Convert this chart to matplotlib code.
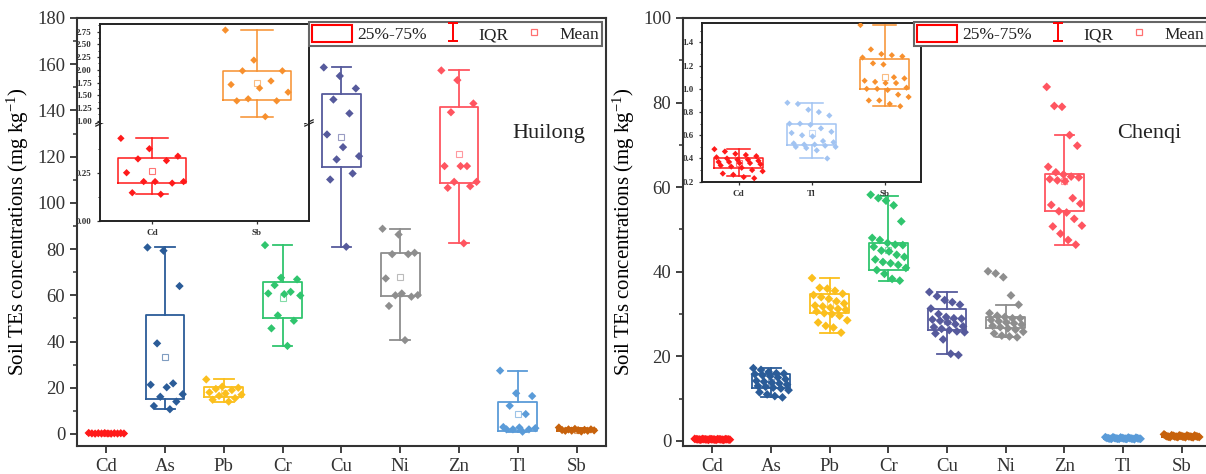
import matplotlib.pyplot as plt
import numpy as np
from matplotlib.patches import Patch
from matplotlib.lines import Line2D
from matplotlib.path import Path
from matplotlib.ticker import MultipleLocator, AutoMinorLocator, FormatStrFormatter, FixedLocator

plt.rcParams['font.family'] = 'serif'
plt.rcParams['font.serif'] = ['Liberation Serif', 'DejaVu Serif']
plt.rcParams['mathtext.fontset'] = 'custom'
plt.rcParams['mathtext.rm'] = 'Liberation Serif'
plt.rcParams['mathtext.it'] = 'Liberation Serif:italic'
plt.rcParams['text.color'] = '#222222'
plt.rcParams['axes.edgecolor'] = '#333333'
plt.rcParams['xtick.color'] = '#333333'
plt.rcParams['ytick.color'] = '#333333'

ELEMENTS = ['Cd', 'As', 'Pb', 'Cr', 'Cu', 'Ni', 'Zn', 'Tl', 'Sb']

# ---- Huilong samples (mg/kg) ----
hl_cd = [0.43, 0.376, 0.337, 0.323, 0.314, 0.251, 0.205, 0.205, 0.205, 0.197, 0.147, 0.139]
hl_as = [80.7, 79.3, 64.0, 39.2, 21.9, 21.3, 20.2, 17.2, 16.1, 14.0, 12.1, 10.7]
hl_pb = [23.6, 20.5, 20.0, 19.5, 19.0, 18.0, 17.5, 17.0, 16.5, 15.5, 14.8, 14.0]
hl_cr = [81.7, 67.6, 66.9, 64.4, 61.5, 60.8, 60.5, 59.9, 51.3, 49.0, 45.7, 38.1]
hl_cu = [158.6, 154.9, 149.5, 144.7, 138.7, 129.6, 124.1, 120.2, 118.8, 112.7, 110.1, 81.0]
hl_ni = [88.8, 86.3, 78.4, 77.8, 77.8, 67.3, 60.8, 60.1, 60.0, 59.4, 55.4, 40.6]
hl_zn = [157.3, 153.1, 143.0, 139.2, 115.9, 115.9, 115.9, 109.1, 109.1, 107.2, 106.5, 82.5]
hl_tl = [27.4, 17.6, 16.4, 12.2, 8.6, 3.0, 2.8, 2.5, 2.0, 2.0, 2.0, 1.0]
hl_sb = [2.78, 2.19, 1.98, 1.98, 1.78, 1.71, 1.64, 1.56, 1.43, 1.39, 1.39, 1.08]

# box stats (25%, 75%, whisker low/high, mean)
hl_q1 = [0.20, 15.0, 16.1, 50.0, 115.6, 59.8, 108.4, 1.3, 1.41]
hl_q3 = [0.326, 51.5, 20.2, 65.6, 147.0, 78.4, 141.3, 14.0, 1.98]
hl_lo = [0.139, 10.8, 14.0, 38.1, 81.0, 40.6, 82.5, 1.0, 1.08]
hl_hi = [0.43, 80.7, 23.6, 81.7, 158.6, 88.8, 157.3, 27.4, 2.78]
hl_mean = [0.26, 33.2, 17.8, 59.0, 128.6, 67.9, 121.3, 8.5, 1.75]

# ---- Chenqi samples (mg/kg) ----
cq_cd = [0.48, 0.46, 0.44, 0.43, 0.42, 0.41, 0.40, 0.39, 0.39, 0.38, 0.37, 0.37,
         0.36, 0.36, 0.35, 0.34, 0.33, 0.32, 0.30, 0.29, 0.27, 0.26, 0.24, 0.23]
cq_as = [17.2, 16.8, 16.3, 16.0, 15.9, 15.8, 15.5, 15.3, 15.0, 14.6, 14.2, 14.0,
         13.8, 13.6, 13.3, 13.0, 12.8, 12.6, 12.4, 12.0, 11.5, 11.0, 10.6, 10.3]
cq_pb = [38.5, 36.2, 36.0, 35.5, 34.8, 34.5, 34.0, 33.6, 33.0, 32.5, 32.0, 31.8,
         31.5, 31.2, 31.0, 30.6, 30.2, 30.0, 29.6, 28.5, 28.0, 27.2, 26.8, 25.6]
cq_cr = [58.2, 57.4, 56.8, 55.7, 51.9, 48.0, 47.5, 46.8, 46.4, 46.3, 45.9, 45.0,
         44.8, 44.0, 43.5, 42.9, 42.3, 42.0, 41.6, 40.9, 40.4, 39.5, 38.3, 37.9]
cq_cu = [35.2, 34.2, 33.3, 32.8, 32.2, 31.3, 30.0, 29.3, 29.0, 28.9, 28.7, 28.4,
         28.0, 27.6, 27.1, 26.9, 26.5, 26.2, 25.9, 25.7, 25.4, 24.0, 20.6, 20.3]
cq_ni = [40.1, 39.6, 38.7, 34.4, 32.2, 30.2, 29.6, 29.3, 29.0, 29.0, 28.6, 28.3,
         28.0, 27.8, 27.5, 27.2, 26.9, 26.6, 26.3, 25.8, 25.4, 24.9, 24.7, 24.5]
cq_zn = [83.7, 79.2, 79.0, 72.3, 69.8, 64.8, 63.5, 63.0, 62.5, 62.3, 61.9, 61.6,
         61.4, 57.4, 56.1, 55.8, 54.3, 54.0, 52.5, 50.9, 50.7, 49.0, 47.5, 46.4]
cq_tl = [0.88, 0.87, 0.82, 0.80, 0.77, 0.70, 0.70, 0.69, 0.66, 0.63, 0.62, 0.60,
         0.59, 0.55, 0.54, 0.53, 0.52, 0.52, 0.51, 0.50, 0.50, 0.49, 0.47, 0.40]
cq_sb = [1.55, 1.34, 1.30, 1.29, 1.28, 1.27, 1.22, 1.21, 1.10, 1.09, 1.07, 1.06,
         1.05, 1.05, 1.01, 1.00, 1.00, 0.99, 0.95, 0.93, 0.90, 0.90, 0.87, 0.85]

cq_q1 = [0.32, 12.6, 30.2, 40.5, 26.3, 26.6, 54.3, 0.516, 1.00]
cq_q3 = [0.40, 15.9, 34.8, 46.8, 31.3, 29.3, 63.0, 0.70, 1.26]
cq_lo = [0.25, 10.3, 25.6, 37.7, 20.6, 24.5, 46.4, 0.40, 0.855]
cq_hi = [0.48, 17.2, 38.5, 57.8, 35.2, 32.1, 72.3, 0.875, 1.55]
cq_mean = [0.36, 14.0, 32.6, 45.2, 28.4, 28.5, 61.4, 0.62, 1.10]

# colours
main_colors = ['#FF1A1A', '#2B5C98', '#FBBF1D', '#30C56E', '#565A9C',
               '#8E8E8E', '#FF5560', '#5A9BD8', '#C7620C']
inset_colors_hl = ['#FF1A1A', '#F7902E']
inset_colors_cq = ['#FF1A1A', '#A2C4F2', '#F7902E']


def spread(n, width=0.6, step=5):
    # deterministic horizontal jitter
    k = np.arange(n)
    return ((k * step) % n / (n - 1) - 0.5) * width


def draw_group(ax, pos, vals, q1, q3, lo, hi, mean, color, s=16, lw=1.3,
               width=0.66, cap=0.33, jit=0.6):
    stats = [dict(q1=q1, q3=q3, med=q1, whislo=lo, whishi=hi, mean=mean, fliers=[])]
    ax.bxp(stats, positions=[pos], widths=width, capwidths=cap, showmeans=True,
           showfliers=False, manage_ticks=False,
           boxprops=dict(color=color, lw=lw),
           whiskerprops=dict(color=color, lw=lw),
           capprops=dict(color=color, lw=lw),
           medianprops=dict(visible=False),
           meanprops=dict(marker='s', markerfacecolor='none', markeredgecolor=color,
                          markersize=4, markeredgewidth=0.8, alpha=0.6))
    vals = np.asarray(vals)
    ax.scatter(pos + spread(len(vals), jit), vals, marker='D', s=s, color=color,
               edgecolors='none', zorder=3)


def style_main(ax, ymax, ymin):
    ax.set_xlim(0.5, 9.5)
    ax.set_ylim(ymin, ymax)
    ax.set_xticks(range(1, 10))
    ax.set_xticklabels(ELEMENTS)
    ax.yaxis.set_major_locator(MultipleLocator(20))
    ax.yaxis.set_minor_locator(AutoMinorLocator(2))
    ax.tick_params(axis='both', which='major', direction='out', length=5, width=1.3,
                   labelsize=13.5, top=False, right=False)
    ax.tick_params(axis='y', which='minor', direction='out', length=3, width=1.1)
    for sp in ax.spines.values():
        sp.set_linewidth(1.5)
    ax.set_ylabel('Soil TEs concentrations (mg kg$^{-1}$)', fontsize=15, labelpad=4)


iqr_path = Path([(-0.5, -1), (0.5, -1), (0, -1), (0, 1), (-0.5, 1), (0.5, 1)],
                [Path.MOVETO, Path.LINETO, Path.MOVETO, Path.LINETO, Path.MOVETO, Path.LINETO])


def add_legend(ax):
    # figure-level legend so it sits above the inset axes
    handles = [Patch(facecolor='white', edgecolor='red', lw=1.5),
               Line2D([], [], marker=iqr_path, color='red', ls='none', markersize=13,
                      markeredgewidth=1.4),
               Line2D([], [], marker='s', markerfacecolor='none', markeredgecolor='#FF7070',
                      ls='none', markersize=4, markeredgewidth=0.9)]
    bb = ax.get_position()
    leg = fig.legend(handles, ['25%-75%', 'IQR', 'Mean'], loc='upper right', ncol=3,
                     bbox_to_anchor=(bb.x1, bb.y1), bbox_transform=fig.transFigure,
                     fontsize=12.5, fancybox=False, edgecolor='#666666', framealpha=1,
                     borderaxespad=0.25, handlelength=2.3, handleheight=1.1,
                     handletextpad=0.3, columnspacing=0.35, borderpad=0.15)
    leg.get_frame().set_linewidth(1.5)


def style_inset(ax):
    for sp in ax.spines.values():
        sp.set_linewidth(1.4)
        sp.set_color('#222222')
    ax.tick_params(axis='both', which='major', direction='out', length=2.5, width=0.9,
                   labelsize=6.5, top=False, right=False)
    ax.tick_params(axis='y', which='minor', direction='out', length=1.5, width=0.7)
    for lab in ax.get_xticklabels() + ax.get_yticklabels():
        lab.set_fontweight('bold')


fig = plt.figure(figsize=(12.06, 4.74), dpi=100)

# ---------------- Huilong ----------------
ax1 = fig.add_axes([0.0638, 0.0591, 0.4386, 0.903])
hl_data = [hl_cd, hl_as, hl_pb, hl_cr, hl_cu, hl_ni, hl_zn, hl_tl, hl_sb]
for i, vals in enumerate(hl_data):
    draw_group(ax1, i + 1, vals, hl_q1[i], hl_q3[i], hl_lo[i], hl_hi[i], hl_mean[i],
               main_colors[i], s=18)
style_main(ax1, 180, -5.2)
ax1.text(0.824, 0.731, 'Huilong', transform=ax1.transAxes, fontsize=16,
         ha='left', va='center')

# inset with broken axis (Cd, Sb)
in_lo = fig.add_axes([0.0829, 0.5338, 0.1733, 0.2068])
in_hi = fig.add_axes([0.0829, 0.7405, 0.1733, 0.2089])
for a in (in_lo, in_hi):
    for j, (vals, idx) in enumerate([(hl_cd, 0), (hl_sb, 8)]):
        draw_group(a, j + 1, vals, hl_q1[idx], hl_q3[idx], hl_lo[idx], hl_hi[idx],
                   hl_mean[idx], inset_colors_hl[j], s=14, lw=1.1, width=0.65,
                   cap=0.31, jit=0.6)
    a.set_xlim(0.5, 2.5)
in_lo.set_ylim(0, 0.51)
in_hi.set_ylim(0.955, 2.9)
in_lo.yaxis.set_major_locator(FixedLocator([0, 0.25]))
in_lo.yaxis.set_minor_locator(FixedLocator([0.125, 0.375]))
in_hi.yaxis.set_major_locator(MultipleLocator(0.25))
in_hi.yaxis.set_minor_locator(AutoMinorLocator(2))
in_lo.yaxis.set_major_formatter(FormatStrFormatter('%.2f'))
in_hi.yaxis.set_major_formatter(FormatStrFormatter('%.2f'))
in_lo.set_xticks([1, 2])
in_lo.set_xticklabels(['Cd', 'Sb'])
in_hi.set_xticks([])
style_inset(in_lo)
style_inset(in_hi)
in_lo.spines['top'].set_visible(False)
in_hi.spines['bottom'].set_visible(False)
for xb in (0, 1):
    for dy in (-0.012, 0.012):
        in_lo.plot([xb - 0.02, xb + 0.02], [1 + dy - 0.02, 1 + dy + 0.02],
                   transform=in_lo.transAxes, color='#222222', lw=0.9, clip_on=False)

# ---------------- Chenqi ----------------
ax2 = fig.add_axes([0.5663, 0.0591, 0.4378, 0.903])
cq_data = [cq_cd, cq_as, cq_pb, cq_cr, cq_cu, cq_ni, cq_zn, cq_tl, cq_sb]
for i, vals in enumerate(cq_data):
    draw_group(ax2, i + 1, vals, cq_q1[i], cq_q3[i], cq_lo[i], cq_hi[i], cq_mean[i],
               main_colors[i], s=20)
style_main(ax2, 100, -1.2)
ax2.text(0.822, 0.731, 'Chenqi', transform=ax2.transAxes, fontsize=16,
         ha='left', va='center')

in2 = fig.add_axes([0.5821, 0.6167, 0.1816, 0.3354])
for j, (vals, idx) in enumerate([(cq_cd, 0), (cq_tl, 7), (cq_sb, 8)]):
    draw_group(in2, j + 1, vals, cq_q1[idx], cq_q3[idx], cq_lo[idx], cq_hi[idx],
               cq_mean[idx], inset_colors_cq[j], s=10, lw=1.1, width=0.66,
               cap=0.32, jit=0.66)
in2.set_xlim(0.5, 3.5)
in2.set_ylim(0.2, 1.57)
in2.yaxis.set_major_locator(MultipleLocator(0.2))
in2.yaxis.set_minor_locator(AutoMinorLocator(2))
in2.yaxis.set_major_formatter(FormatStrFormatter('%.1f'))
in2.set_xticks([1, 2, 3])
in2.set_xticklabels(['Cd', 'Tl', 'Sb'])
style_inset(in2)

add_legend(ax1)
add_legend(ax2)

fig.savefig('out.png', dpi=100)
